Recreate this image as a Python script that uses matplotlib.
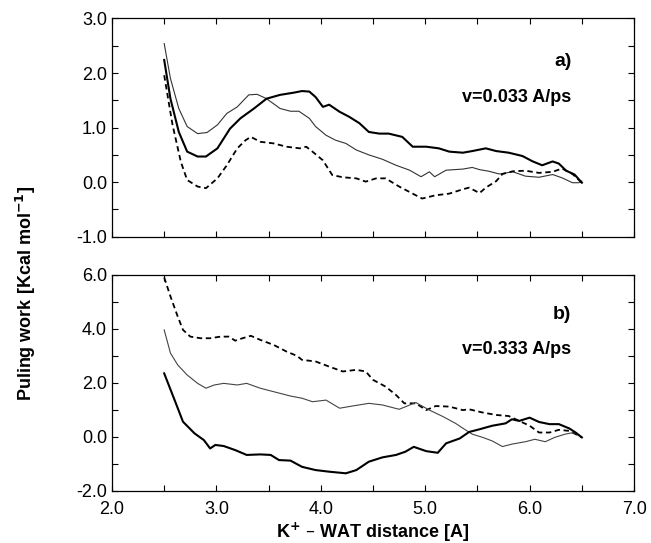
import matplotlib
matplotlib.use("Agg")
import matplotlib.pyplot as plt
from matplotlib.ticker import MultipleLocator, FormatStrFormatter

plt.rcParams['font.family'] = ['Liberation Sans', 'DejaVu Sans']

# ---- panel a) v=0.033 A/ps ----
a_thin_x = [2.50, 2.56, 2.64, 2.72, 2.82, 2.91, 3.01, 3.10, 3.20, 3.31, 3.39, 3.48, 3.61, 3.71,
            3.79, 3.89, 3.95, 4.05, 4.14, 4.24, 4.34, 4.46, 4.59, 4.72, 4.85, 4.96, 5.04, 5.09,
            5.20, 5.36, 5.45, 5.52, 5.61, 5.71, 5.84, 5.96, 6.09, 6.22, 6.31, 6.41, 6.47, 6.50]
a_thin_y = [2.54, 1.90, 1.35, 1.02, 0.89, 0.91, 1.05, 1.26, 1.38, 1.60, 1.61, 1.53, 1.35, 1.30,
            1.30, 1.17, 1.02, 0.86, 0.77, 0.71, 0.59, 0.50, 0.42, 0.31, 0.22, 0.10, 0.19, 0.10,
            0.22, 0.24, 0.27, 0.23, 0.20, 0.15, 0.19, 0.11, 0.09, 0.14, 0.08, -0.01, -0.01, 0.02]

a_solid_x = [2.50, 2.56, 2.64, 2.72, 2.82, 2.90, 3.01, 3.13, 3.23, 3.36, 3.48, 3.61, 3.74, 3.82,
             3.89, 3.95, 4.02, 4.08, 4.18, 4.27, 4.37, 4.46, 4.56, 4.65, 4.78, 4.88, 5.01, 5.13,
             5.23, 5.36, 5.45, 5.58, 5.68, 5.80, 5.93, 6.03, 6.12, 6.22, 6.28, 6.35, 6.43, 6.50]
a_solid_y = [2.24, 1.53, 0.92, 0.56, 0.47, 0.47, 0.62, 0.98, 1.17, 1.35, 1.53, 1.60, 1.64, 1.67,
             1.66, 1.56, 1.38, 1.42, 1.29, 1.20, 1.08, 0.92, 0.89, 0.89, 0.83, 0.65, 0.65, 0.62,
             0.56, 0.54, 0.57, 0.62, 0.57, 0.54, 0.48, 0.38, 0.31, 0.38, 0.34, 0.21, 0.14, -0.01]

a_dash_x = [2.50, 2.58, 2.66, 2.72, 2.82, 2.90, 3.01, 3.10, 3.20, 3.28, 3.33, 3.42, 3.55, 3.67,
            3.80, 3.86, 3.92, 4.02, 4.11, 4.21, 4.34, 4.43, 4.53, 4.62, 4.75, 4.88, 4.97, 5.10,
            5.23, 5.36, 5.42, 5.52, 5.58, 5.68, 5.74, 5.84, 5.96, 6.09, 6.22, 6.31, 6.41, 6.50]
a_dash_y = [1.96, 1.05, 0.37, 0.04, -0.08, -0.11, 0.07, 0.31, 0.62, 0.77, 0.83, 0.74, 0.71, 0.65,
            0.62, 0.65, 0.56, 0.40, 0.13, 0.09, 0.07, 0.01, 0.07, 0.07, -0.08, -0.21, -0.30, -0.24,
            -0.21, -0.13, -0.10, -0.20, -0.10, 0.02, 0.15, 0.20, 0.21, 0.17, 0.19, 0.25, 0.15, -0.01]

# ---- panel b) v=0.333 A/ps ----
b_dash_x = [2.50, 2.56, 2.63, 2.68, 2.75, 2.85, 2.94, 3.04, 3.12, 3.18, 3.25, 3.33, 3.42, 3.55,
            3.67, 3.77, 3.82, 3.95, 4.08, 4.21, 4.34, 4.43, 4.50, 4.62, 4.72, 4.80, 4.91, 5.01,
            5.10, 5.23, 5.36, 5.42, 5.55, 5.68, 5.80, 5.90, 6.00, 6.09, 6.19, 6.28, 6.38, 6.50]
b_dash_y = [5.90, 5.20, 4.45, 3.96, 3.71, 3.65, 3.65, 3.71, 3.71, 3.56, 3.65, 3.74, 3.59, 3.40,
            3.16, 3.00, 2.85, 2.79, 2.60, 2.42, 2.48, 2.42, 2.11, 1.86, 1.55, 1.24, 1.24, 0.99,
            1.14, 1.12, 0.99, 1.02, 0.90, 0.81, 0.77, 0.59, 0.41, 0.16, 0.16, 0.26, 0.22, -0.02]

b_dot_x = [2.50, 2.56, 2.63, 2.72, 2.82, 2.90, 2.98, 3.07, 3.20, 3.29, 3.42, 3.58, 3.71, 3.82,
           3.92, 4.05, 4.18, 4.30, 4.46, 4.59, 4.75, 4.91, 5.04, 5.17, 5.29, 5.36, 5.45, 5.55,
           5.64, 5.74, 5.83, 5.96, 6.05, 6.15, 6.24, 6.34, 6.42, 6.50]
b_dot_y = [3.96, 3.10, 2.66, 2.29, 1.98, 1.80, 1.92, 1.98, 1.92, 1.98, 1.80, 1.64, 1.51, 1.43,
           1.30, 1.36, 1.06, 1.14, 1.24, 1.18, 1.02, 1.27, 0.99, 0.75, 0.50, 0.32, 0.10, -0.02,
           -0.15, -0.36, -0.27, -0.18, -0.09, -0.18, -0.02, 0.10, 0.16, -0.02]

b_solid_x = [2.50, 2.60, 2.68, 2.79, 2.88, 2.94, 2.99, 3.07, 3.18, 3.29, 3.42, 3.52, 3.60, 3.71,
             3.82, 3.95, 4.08, 4.24, 4.34, 4.46, 4.59, 4.72, 4.81, 4.89, 5.01, 5.12, 5.20, 5.33,
             5.42, 5.52, 5.64, 5.77, 5.83, 5.90, 6.00, 6.09, 6.19, 6.28, 6.38, 6.44, 6.50]
b_solid_y = [2.35, 1.36, 0.56, 0.13, -0.12, -0.43, -0.30, -0.34, -0.49, -0.67, -0.65, -0.67, -0.86, -0.88,
             -1.11, -1.23, -1.29, -1.35, -1.23, -0.92, -0.76, -0.67, -0.55, -0.37, -0.53, -0.59, -0.24, -0.06,
             0.18, 0.28, 0.41, 0.50, 0.65, 0.59, 0.71, 0.55, 0.47, 0.47, 0.31, 0.16, -0.02]

fig = plt.figure(figsize=(6.51, 5.43), dpi=100)
ax1 = fig.add_axes([0.172, 0.564, 0.802, 0.402])
ax2 = fig.add_axes([0.172, 0.096, 0.802, 0.398])

ax1.plot(a_thin_x, a_thin_y, color='#333333', lw=0.8)
ax1.plot(a_solid_x, a_solid_y, color='black', lw=1.5)
ax1.plot(a_dash_x, a_dash_y, color='black', lw=1.3, dashes=(3, 2))

ax2.plot(b_dash_x, b_dash_y, color='black', lw=1.3, dashes=(3, 2))
ax2.plot(b_dot_x, b_dot_y, color='#444444', lw=0.8)
ax2.plot(b_solid_x, b_solid_y, color='black', lw=1.5)

for ax in (ax1, ax2):
    ax.set_xlim(2.0, 7.0)
    ax.xaxis.set_major_locator(MultipleLocator(1.0))
    ax.xaxis.set_minor_locator(MultipleLocator(0.5))
    ax.xaxis.set_major_formatter(FormatStrFormatter('%.1f'))
    ax.yaxis.set_major_formatter(FormatStrFormatter('%.1f'))
    ax.tick_params(which='both', direction='in', top=True, right=True,
                   length=4, width=0.8, labelsize=13)
    ax.tick_params(axis='x', pad=7)
    for s in ax.spines.values():
        s.set_linewidth(0.9)

ax1.set_ylim(-1.0, 3.0)
ax1.yaxis.set_major_locator(MultipleLocator(1.0))
ax1.yaxis.set_minor_locator(MultipleLocator(0.5))
ax1.tick_params(labelbottom=False)

ax2.set_ylim(-2.0, 6.0)
ax2.yaxis.set_major_locator(MultipleLocator(2.0))
ax2.yaxis.set_minor_locator(MultipleLocator(1.0))

ax1.text(6.40, 2.21, 'a)', ha='right', va='center', fontsize=14, fontweight='bold')
ax1.text(6.40, 1.56, 'v=0.033 A/ps', ha='right', va='center', fontsize=13, fontweight='bold')
ax2.text(6.40, 4.52, 'b)', ha='right', va='center', fontsize=14, fontweight='bold')
ax2.text(6.40, 3.24, 'v=0.333 A/ps', ha='right', va='center', fontsize=13, fontweight='bold')

ax2.set_xlabel('K$^{\\mathbf{+}}$ – WAT distance [A]', fontsize=13, fontweight='bold', labelpad=2)
fig.text(0.04, 0.46, 'Puling work [Kcal mol$^{\\mathbf{-1}}$]', rotation=90, ha='center',
         va='center', fontsize=13, fontweight='bold')

fig.savefig('out.png', dpi=100)
